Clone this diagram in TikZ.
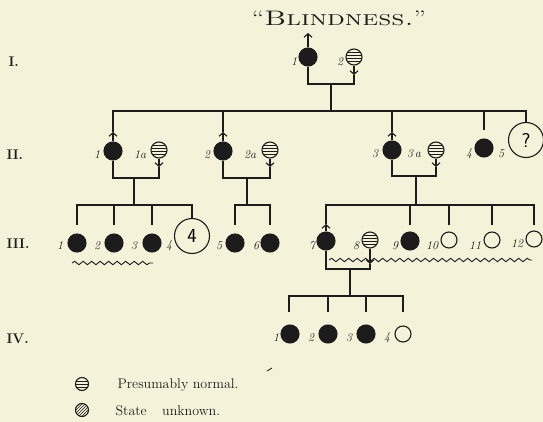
\documentclass[tikz,border=0pt]{standalone}
\usepackage{fontspec}
\usetikzlibrary{arrows.meta,decorations.pathmorphing}
\definecolor{paper}{RGB}{245,242,218}
\definecolor{ink}{RGB}{28,28,28}
\begin{document}
\begin{tikzpicture}[x=1pt,y=-1pt, line width=1.1pt, draw=ink,
  aff/.style={circle, fill=ink, draw=ink, minimum size=18pt, inner sep=0pt},
  opn/.style={circle, draw=ink, minimum size=16pt, inner sep=0pt},
  norm/.style={circle, draw=ink, minimum size=16pt, inner sep=0pt, path picture={
     \foreach \d in {-4.2,-1.4,1.4,4.2}
       \draw[line width=0.8pt] ([yshift=\d pt]path picture bounding box.west) -- ([yshift=\d pt]path picture bounding box.east);}},
  hatch/.style={circle, draw=ink, minimum size=13pt, inner sep=0pt, path picture={
     \foreach \d in {-9,-6,...,9}
       \draw[line width=0.7pt] ([xshift={(\d-8)*1pt},yshift=-8pt]path picture bounding box.center) -- ([xshift={(\d+8)*1pt},yshift=8pt]path picture bounding box.center);}},
  big/.style={circle, draw=ink, minimum size=35pt, inner sep=0pt, font=\sffamily\fontsize{20}{20}\selectfont},
  sexarr/.style={-{Straight Barb[length=3.5pt,width=8pt]}},
  lab/.style={font=\itshape\fontsize{12}{12}\selectfont, inner sep=0pt, text=ink},
  gen/.style={font=\bfseries\fontsize{14}{14}\selectfont, anchor=west, inner sep=0pt, text=ink},
  leg/.style={font=\fontsize{14}{14}\selectfont, anchor=west, inner sep=0pt, text=ink},
  wavy/.style={decorate, decoration={snake, segment length=8.5pt, amplitude=1.7pt}, line width=0.9pt}
]
\fill[paper] (0,0) rectangle (543,422);
\useasboundingbox (0,0) rectangle (543,422);

% title
\node[font=\fontsize{21}{21}\selectfont, text=ink, inner sep=0pt] (title) at (339,18) {\scalebox{1.36}[1]{``\textsc{Blindness.}''}};

% generation labels
\node[gen] (gI) at (8,62) {I.};
\node[gen] (gII) at (6,155) {II.};
\node[gen] (gIII) at (6,244) {III.};
\node[gen] (gIV) at (6,339) {IV.};

% ---------- Generation I ----------
\node[aff] (I1) at (308,57) {};
\node[lab] (lI1) at (294,62) {1};
\coordinate (I1t) at (308,33);
\draw[sexarr] (I1.north) -- (I1t);
\node[norm] (I2) at (354,57) {};
\node[lab] (lI2) at (340,62) {2};
\coordinate (I2t) at (354,75);
\draw[sexarr] (I2.south) -- (I2t);
\coordinate (mI) at (331,84);
\draw (I1.south) |- (mI) -| (I2t);
\coordinate (sII) at (331,111);
\draw (mI) -- (sII);

% ---------- Generation II ----------
\node[aff] (II1) at (113,151) {};
\node[lab] (lII1) at (97,155) {1};
\coordinate (II1t) at (113,132);
\draw[sexarr] (II1.north) -- (II1t);
\node[norm] (II1a) at (159,150) {};
\node[lab] (lII1a) at (140,155) {1a};
\coordinate (II1at) at (159,167);
\draw[sexarr] (II1a.south) -- (II1at);

\node[aff] (II2) at (223,151) {};
\node[lab] (lII2) at (207,155) {2};
\coordinate (II2t) at (223,132);
\draw[sexarr] (II2.north) -- (II2t);
\node[norm] (II2a) at (270,150) {};
\node[lab] (lII2a) at (250,155) {2a};
\coordinate (II2at) at (270,167);
\draw[sexarr] (II2a.south) -- (II2at);

\node[aff] (II3) at (392,150) {};
\node[lab] (lII3) at (375,154) {3};
\coordinate (II3t) at (392,132);
\draw[sexarr] (II3.north) -- (II3t);
\node[norm] (II3a) at (436,150) {};
\node[lab] (lII3a) at (414,154) {3\,a};
\coordinate (II3at) at (436,167);
\draw[sexarr] (II3a.south) -- (II3at);

\node[aff] (II4) at (484,148) {};
\node[lab] (lII4) at (469,154) {4};
\coordinate (II4t) at (484,130);
\node[big] (II5) at (526,140) {?};
\node[lab] (lII5) at (501,154) {5};

% sibship II
\draw (II1t) |- (sII) -| (II5.north);
\draw (II2t) -- (II2t |- sII);
\draw (II3t) -- (II3t |- sII);
\draw (II4t) -- (II4t |- sII);

% marriages II
\coordinate (m1) at (134,178);
\draw (II1.south) |- (m1) -| (II1at);
\coordinate (m2) at (247,178);
\draw (II2.south) |- (m2) -| (II2at);
\coordinate (m3) at (416,176);
\draw (II3.south) |- (m3) -| (II3at);

% ---------- Generation III ----------
\node[aff] (III1) at (77,243) {};
\node[lab] (lIII1) at (60,246) {1};
\node[aff] (III2) at (114,243) {};
\node[lab] (lIII2) at (97,246) {2};
\node[aff] (III3) at (152,243) {};
\node[lab] (lIII3) at (134,246) {3};
\node[big] (III4) at (192,236) {4};
\node[lab] (lIII4) at (169,246) {4};
\node[aff] (III5) at (235,243) {};
\node[lab] (lIII5) at (219,246) {5};
\node[aff] (III6) at (270,243) {};
\node[lab] (lIII6) at (256,246) {6};

\node[aff] (III7) at (326,241) {};
\node[lab] (lIII7) at (312,246) {7};
\coordinate (III7t) at (326,224);
\draw[sexarr] (III7.north) -- (III7t);
\node[norm] (III8) at (370,240) {};
\node[lab] (lIII8) at (356,246) {8};
\coordinate (III8t) at (370,264);
\draw[sexarr] (III8.south) -- (III8t);
\node[aff] (III9) at (410,241) {};
\node[lab] (lIII9) at (395,246) {9};
\node[opn] (III10) at (449,240) {};
\node[lab] (lIII10) at (432,246) {10};
\node[opn] (III11) at (492,240) {};
\node[lab] (lIII11) at (475,246) {11};
\node[opn] (III12) at (534,239) {};
\node[lab] (lIII12) at (517,244) {12};

% sibship III (family of II-1)
\coordinate (s1) at (134,205);
\draw (m1) -- (s1);
\coordinate (d1) at (77,225);
\coordinate (d2) at (114,225);
\coordinate (d3) at (152,225);
\draw (d1) |- (s1) -| (III4.north);
\draw (d2) -- (d2 |- s1);
\draw (d3) -- (d3 |- s1);

% sibship III (family of II-2)
\coordinate (s2) at (247,205);
\draw (m2) -- (s2);
\coordinate (d5) at (235,225);
\coordinate (d6) at (270,225);
\draw (d5) |- (s2) -| (d6);

% sibship III (family of II-3)
\coordinate (s3) at (416,205);
\draw (m3) -- (s3);
\coordinate (d9) at (410,225);
\coordinate (d10) at (449,225);
\coordinate (d11) at (492,225);
\coordinate (d12) at (534,225);
\draw (III7t) |- (s3) -| (d12);
\draw (d9) -- (d9 |- s3);
\draw (d10) -- (d10 |- s3);
\draw (d11) -- (d11 |- s3);

% wavy underlines
\coordinate (w1a) at (72,263);
\coordinate (w1b) at (153,263);
\draw[wavy] (w1a) -- (w1b);
\coordinate (w2a) at (329,260);
\coordinate (w2b) at (532,260);
\draw[wavy] (w2a) -- (w2b);

% marriage III-7 x III-8
\coordinate (m4) at (350,269);
\draw (III7.south) |- (m4) -| (III8t);
\coordinate (s4) at (350,296);
\draw (m4) -- (s4);

% ---------- Generation IV ----------
\node[aff] (IV1) at (290,334) {};
\node[lab] (lIV1) at (276,338) {1};
\node[aff] (IV2) at (328,334) {};
\node[lab] (lIV2) at (311,338) {2};
\node[aff] (IV3) at (366,334) {};
\node[lab] (lIV3) at (349,338) {3};
\node[opn] (IV4) at (403,334) {};
\node[lab] (lIV4) at (387,338) {4};
\coordinate (e1) at (289,312);
\coordinate (e2) at (328,312);
\coordinate (e3) at (366,312);
\coordinate (e4) at (403,312);
\draw (e1) |- (s4) -| (e4);
\draw (e2) -- (e2 |- s4);
\draw (e3) -- (e3 |- s4);

% stray mark
\draw[line width=0.8pt] (267,371) -- (272,368);

% legend
\node[norm, minimum size=13pt, path picture={
     \foreach \d in {-3,0,3}
       \draw[line width=0.8pt] ([yshift=\d pt]path picture bounding box.west) -- ([yshift=\d pt]path picture bounding box.east);}] (L1) at (82,384) {};
\node[leg] (L1t) at (117,385) {Presumably normal.};
\node[hatch] (L2) at (82,410) {};
\node[leg] (L2t) at (115,411) {State\hspace{1.1em}unknown.};
\end{tikzpicture}
\end{document}
